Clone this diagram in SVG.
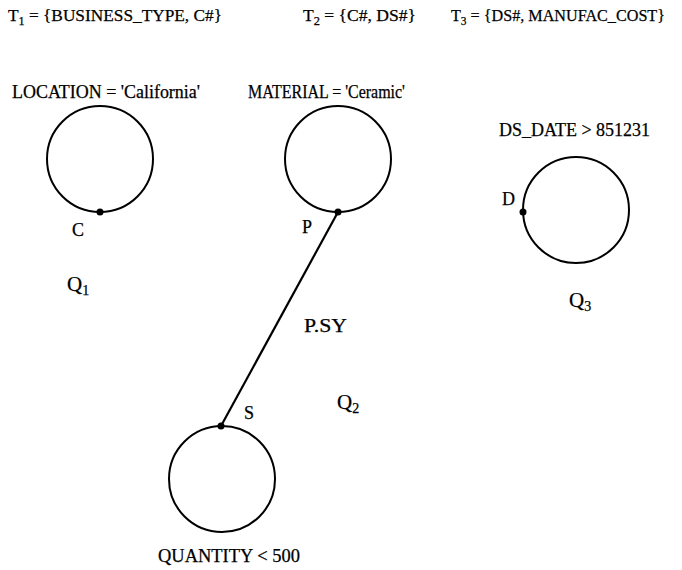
<svg xmlns="http://www.w3.org/2000/svg" width="682" height="570" viewBox="0 0 682 570">
<style>
text{font-family:"Liberation Serif","Times New Roman",serif;font-size:18px;fill:#000;stroke:#000;stroke-width:0.25}
.top{font-size:17px}
.sub{font-size:12px}
.q{font-size:21px}
.qs{font-size:14px}
.node{fill:none;stroke:#000;stroke-width:2}
.dot{fill:#000}
.edge{stroke:#000;stroke-width:2.2;fill:none}
</style>
<rect width="682" height="570" fill="#fff"/>
<g id="schemas">
<text class="top" x="8" y="21" textLength="214" lengthAdjust="spacingAndGlyphs">T<tspan class="sub" dy="4">1</tspan><tspan dy="-4"> = {BUSINESS_TYPE, C#}</tspan></text>
<text class="top" x="303" y="21" textLength="113" lengthAdjust="spacingAndGlyphs">T<tspan class="sub" dy="4">2</tspan><tspan dy="-4"> = {C#, DS#}</tspan></text>
<text class="top" x="451" y="21" textLength="214" lengthAdjust="spacingAndGlyphs">T<tspan class="sub" dy="4">3</tspan><tspan dy="-4"> = {DS#, MANUFAC_COST}</tspan></text>
</g>
<g id="connectors">
<line class="edge" x1="338" y1="212" x2="221" y2="426"/>
</g>
<g id="node-C">
<text x="12" y="98" textLength="188" lengthAdjust="spacingAndGlyphs">LOCATION = 'California'</text>
<circle class="node" cx="100" cy="159" r="53"/>
<circle class="dot" cx="100" cy="212" r="3.5"/>
<text x="72" y="236">C</text>
<text class="q" x="67" y="291">Q<tspan class="qs" dy="4">1</tspan></text>
</g>
<g id="node-P">
<text x="248" y="98" textLength="157" lengthAdjust="spacingAndGlyphs">MATERIAL = 'Ceramic'</text>
<circle class="node" cx="338" cy="159" r="53"/>
<circle class="dot" cx="338" cy="212" r="3.5"/>
<text x="302" y="233">P</text>
</g>
<g id="node-S">
<circle class="node" cx="222" cy="479" r="53"/>
<circle class="dot" cx="221" cy="426" r="3.5"/>
<text x="244" y="419">S</text>
<text x="158" y="562" textLength="142" lengthAdjust="spacingAndGlyphs">QUANTITY &lt; 500</text>
</g>
<g id="labels-Q2">
<text x="304" y="332" textLength="43" lengthAdjust="spacingAndGlyphs">P.SY</text>
<text class="q" x="337" y="409">Q<tspan class="qs" dy="4">2</tspan></text>
</g>
<g id="node-D">
<text x="499" y="136" textLength="151" lengthAdjust="spacingAndGlyphs">DS_DATE &gt; 851231</text>
<circle class="node" cx="576" cy="210" r="53"/>
<circle class="dot" cx="523" cy="212" r="3.5"/>
<text x="502" y="205">D</text>
<text class="q" x="569" y="307">Q<tspan class="qs" dy="4">3</tspan></text>
</g>
</svg>
